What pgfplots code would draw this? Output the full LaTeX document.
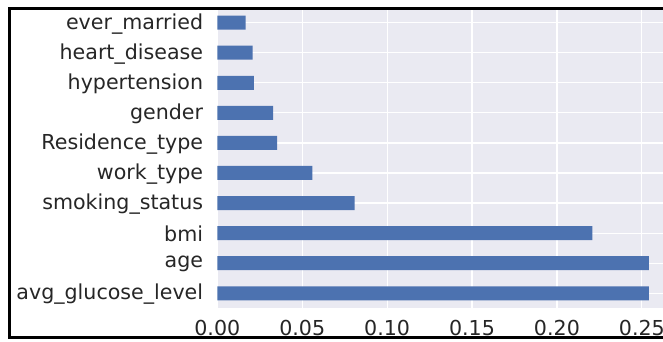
\documentclass[border=0pt]{standalone}
\usepackage{pgfplots}
\pgfplotsset{compat=1.18}
\usepackage{fontspec}
\setmainfont{DejaVu Sans}
\definecolor{barblue}{HTML}{4C72B0}
\definecolor{bgl}{HTML}{EAEAF2}
\definecolor{txt}{HTML}{262626}
\begin{document}
\begin{tikzpicture}[x=1pt,y=1pt]
\useasboundingbox (0,0) rectangle (663,341);
\begin{scope}
\clip (9.7,3.3) rectangle (663,332.3);
\begin{axis}[
  at={(217.3pt,32.7pt)}, anchor=south west, scale only axis,
  width=458.5pt, height=300.7pt,
  xmin=0, xmax=0.27, ymin=-0.5, ymax=9.5,
  axis background/.style={fill=bgl},
  axis line style={draw=none},
  major tick length=0pt,
  xtick={0,0.05,0.1,0.15,0.2,0.25},
  xticklabels={0.00,0.05,0.10,0.15,0.20,0.25},
  ytick={0,1,2,3,4,5,6,7,8,9},
  yticklabels={avg\_glucose\_level, age, bmi, smoking\_status, work\_type, Residence\_type, gender, hypertension, heart\_disease, ever\_married},
  grid=major, major grid style={white, line width=1.2pt},
  tick label style={font=\fontsize{20.6}{22}\selectfont, text=txt},
  xticklabel style={anchor=base, inner sep=0pt, yshift=-27.5pt},
  yticklabel style={anchor=east, inner sep=0pt, xshift=-14pt, yshift=-1pt},
]
\addplot[xbar, bar width=14pt, fill=barblue, draw=none] coordinates {
  (0.2542,0) (0.2542,1) (0.2208,2) (0.0809,3) (0.0560,4)
  (0.0353,5) (0.0328,6) (0.0216,7) (0.0208,8) (0.0167,9)
};
\end{axis}
\end{scope}
\draw[line width=3pt, black] (663,332.3) -- (9.7,332.3) -- (9.7,3.3) -- (663,3.3);
\end{tikzpicture}
\end{document}
